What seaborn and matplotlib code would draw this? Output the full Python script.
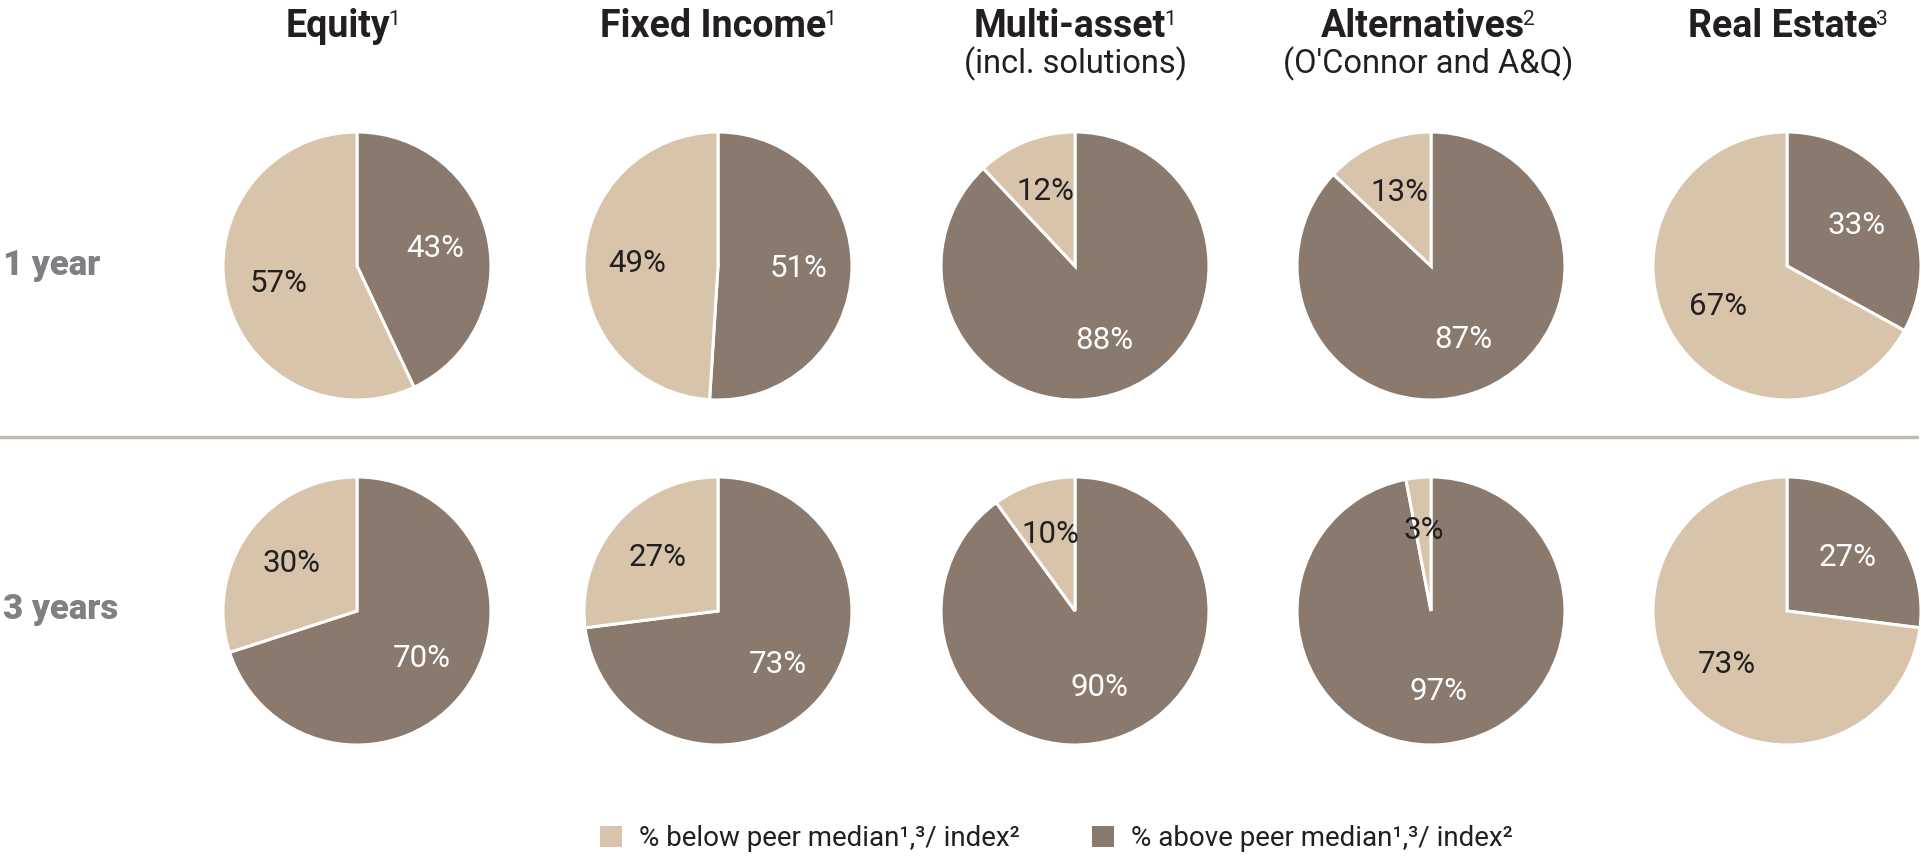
import matplotlib
matplotlib.use("Agg")
import matplotlib.pyplot as plt
import seaborn as sns
from matplotlib.patches import Patch
from matplotlib.lines import Line2D

# Asset classes, time periods and share of assets below / above peer median or index
categories = ["Equity", "Fixed Income", "Multi-asset", "Alternatives", "Real Estate"]
footnotes = ["1", "1", "1", "2", "3"]
subtitles = ["", "", "(incl. solutions)", "(O'Connor and A&Q)", ""]
periods = ["1 year", "3 years"]
above_1y = [43, 51, 88, 87, 33]
below_1y = [57, 49, 12, 13, 67]
above_3y = [70, 73, 90, 97, 27]
below_3y = [30, 27, 10, 3, 73]
legend_labels = ["% below peer median¹,³/ index²", "% above peer median¹,³/ index²"]

sns.set_theme(style="white")
plt.rcParams["font.family"] = ["Roboto", "DejaVu Sans"]

LIGHT, DARK = sns.color_palette(["#D8C4AB", "#8A7A6D"])
TEXT_DARK = "#231F20"
ROW_GREY = "#7F8084"

W, H = 1921, 858
fig = plt.figure(figsize=(W / 100, H / 100), dpi=100)
fig.patch.set_facecolor("white")
renderer = fig.canvas.get_renderer()

col_x = [357, 718, 1075, 1431, 1787]
row_y = [266, 611]
R = 134

rows = [(above_1y, below_1y), (above_3y, below_3y)]
for r, (above, below) in enumerate(rows):
    for c in range(len(categories)):
        cx, cy = col_x[c], row_y[r]
        ax = fig.add_axes([(cx - R) / W, 1 - (cy + R) / H, 2 * R / W, 2 * R / H])
        wedges, texts, autotexts = ax.pie(
            [above[c], below[c]],
            colors=[DARK, LIGHT],
            startangle=90,
            counterclock=False,
            autopct=lambda p: f"{round(p):d}%",
            pctdistance=0.6,
            wedgeprops=dict(edgecolor="white", linewidth=2.2),
            textprops=dict(fontsize=22.5),
        )
        for w in wedges:
            w.set_clip_on(False)
        autotexts[0].set_color("white")
        autotexts[1].set_color(TEXT_DARK)
        ax.set_xlim(-1, 1)
        ax.set_ylim(-1, 1)
        ax.set_axis_off()

# column headers: bold name with a small regular footnote mark
head_x = [343, 718, 1075, 1428, 1788]
base_y = 37
gap = -2
for x, title, note, sub in zip(head_x, categories, footnotes, subtitles):
    t = fig.text(0, 1 - base_y / H, title, ha="left", va="baseline",
                 fontsize=27, fontweight="bold", color=TEXT_DARK)
    s = fig.text(0, 1 - (base_y - 12) / H, note, ha="left", va="baseline",
                 fontsize=15, color=TEXT_DARK)
    wt = t.get_window_extent(renderer).width
    ws = s.get_window_extent(renderer).width
    left = x - (wt + gap + ws) / 2
    t.set_x(left / W)
    s.set_x((left + wt + gap) / W)
    if sub:
        fig.text(x / W, 1 - 73 / H, sub, ha="center", va="baseline",
                 fontsize=23.5, color=TEXT_DARK)

# row labels
for y, label in zip(row_y, periods):
    fig.text(3 / W, 1 - (y - 1) / H, label, ha="left", va="center",
             fontsize=25, fontweight="black", color=ROW_GREY)

# separator between the two periods
fig.add_artist(Line2D([0, 1917 / W], [1 - 437 / H, 1 - 437 / H],
                      color="#C2BAB1", lw=2.5, transform=fig.transFigure))

# legend
handles = [Patch(facecolor=LIGHT, edgecolor="none", label=legend_labels[0]),
           Patch(facecolor=DARK, edgecolor="none", label=legend_labels[1])]
leg = fig.legend(handles=handles, loc="center left",
                 bbox_to_anchor=(600 / W, 1 - 839 / H), ncol=2, frameon=False,
                 fontsize=20, handlelength=0.8, handleheight=0.8,
                 handletextpad=0.6, columnspacing=2.6,
                 borderpad=0, borderaxespad=0)
for t in leg.get_texts():
    t.set_color(TEXT_DARK)

fig.savefig("out.png", dpi=100, facecolor="white")
